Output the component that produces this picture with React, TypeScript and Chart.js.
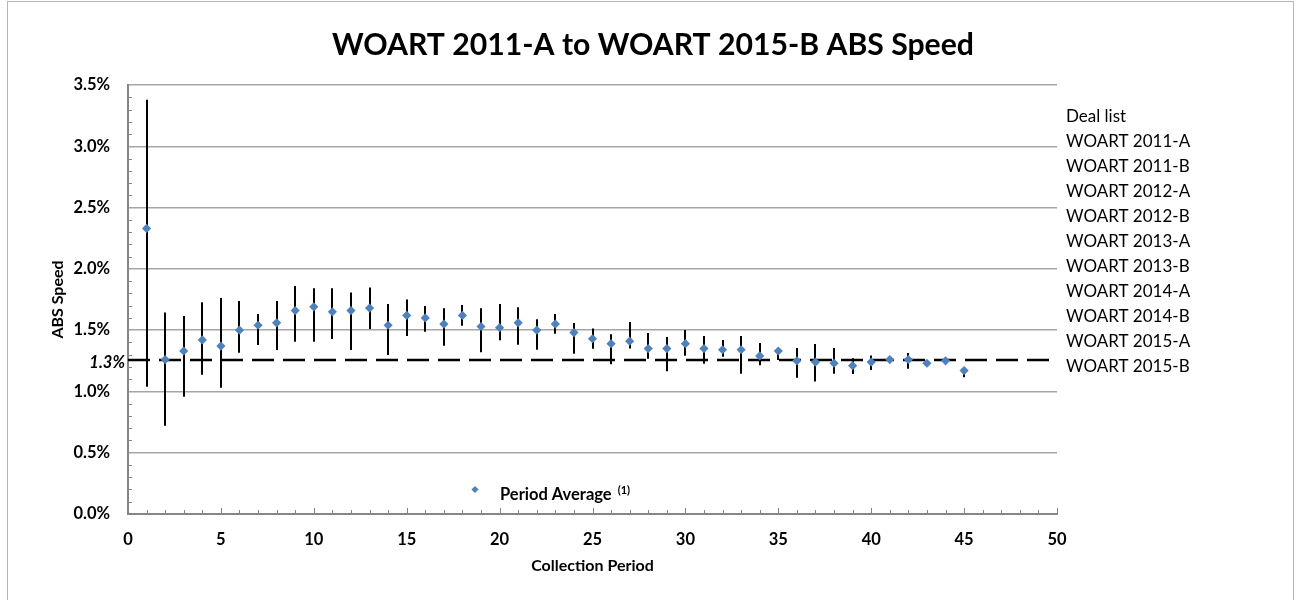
import React, { useEffect, useRef } from 'react';
import { Chart, registerables } from 'chart.js';

Chart.register(...registerables);

const chartTitle = 'WOART 2011-A to WOART 2015-B ABS Speed';
const xAxisTitle = 'Collection Period';
const yAxisTitle = 'ABS Speed';
const legendTitle = 'Deal list';
const dealList = [
  'WOART 2011-A', 'WOART 2011-B', 'WOART 2012-A', 'WOART 2012-B', 'WOART 2013-A',
  'WOART 2013-B', 'WOART 2014-A', 'WOART 2014-B', 'WOART 2015-A', 'WOART 2015-B',
];
const seriesLabel = 'Period Average';
const seriesNote = '(1)';

const periods = [
  1, 2, 3, 4, 5, 6, 7, 8, 9, 10, 11, 12, 13, 14, 15, 16, 17, 18, 19, 20, 21, 22, 23,
  24, 25, 26, 27, 28, 29, 30, 31, 32, 33, 34, 35, 36, 37, 38, 39, 40, 41, 42, 43, 44, 45,
];
const periodAverage = [
  2.33, 1.26, 1.33, 1.42, 1.37, 1.50, 1.54, 1.56, 1.66, 1.69, 1.65, 1.66, 1.68, 1.54, 1.62,
  1.60, 1.55, 1.62, 1.53, 1.52, 1.56, 1.50, 1.55, 1.48, 1.43, 1.39, 1.41, 1.35, 1.35, 1.39,
  1.35, 1.34, 1.34, 1.29, 1.33, 1.25, 1.24, 1.23, 1.21, 1.24, 1.26, 1.26, 1.23, 1.25, 1.17,
];
const periodHigh = [
  3.38, 1.645, 1.615, 1.727, 1.762, 1.737, 1.631, 1.737, 1.86, 1.841, 1.841, 1.808, 1.849, 1.713, 1.751,
  1.697, 1.678, 1.705, 1.678, 1.713, 1.686, 1.588, 1.631, 1.558, 1.514, 1.466, 1.566, 1.476, 1.444, 1.501,
  1.452, 1.419, 1.452, 1.395, 1.35, 1.354, 1.387, 1.354, 1.27, 1.294, 1.285, 1.313, 1.248, 1.26, 1.197,
];
const periodLow = [
  1.038, 0.72, 0.957, 1.136, 1.03, 1.316, 1.378, 1.338, 1.406, 1.406, 1.427, 1.338, 1.509, 1.297, 1.452,
  1.487, 1.373, 1.536, 1.319, 1.417, 1.381, 1.34, 1.471, 1.308, 1.348, 1.221, 1.351, 1.267, 1.164, 1.291,
  1.226, 1.283, 1.144, 1.213, 1.256, 1.112, 1.082, 1.144, 1.142, 1.175, 1.235, 1.185, 1.221, 1.24, 1.115,
];
const overallAverage = 1.256;
const overallAverageLabel = '1.3%';

const xTickValues = [0, 5, 10, 15, 20, 25, 30, 35, 40, 45, 50];
const yTickValues = [0, 0.5, 1.0, 1.5, 2.0, 2.5, 3.0, 3.5];
const xMinorCount = 50; // one minor tick per period
const yMinorCount = 35; // one minor tick per 0.1%

const FONT = 'Lato, "Open Sans", sans-serif';
const AXIS_COLOR = '#868686';
const GRID_COLOR = '#a6a6a6';
const MARKER_COLOR = '#4F81BD';

const framePlugin = {
  id: 'frame',
  beforeDraw(chart: any) {
    const { ctx, width, height } = chart;
    ctx.save();
    ctx.fillStyle = '#ffffff';
    ctx.fillRect(0, 0, width, height);
    ctx.strokeStyle = '#b5b5b5';
    ctx.lineWidth = 1;
    ctx.strokeRect(7.5, 1.5, 1286, height + 20);
    ctx.restore();
  },
};

const errorBarPlugin = {
  id: 'errorBars',
  beforeDatasetsDraw(chart: any) {
    const { ctx } = chart;
    const xs = chart.scales.x;
    const ys = chart.scales.y;
    ctx.save();
    ctx.strokeStyle = '#000000';
    ctx.lineWidth = 2;
    ctx.lineCap = 'butt';
    periods.forEach((p, i) => {
      const px = Math.round(xs.getPixelForValue(p));
      ctx.beginPath();
      ctx.moveTo(px, ys.getPixelForValue(periodLow[i]));
      ctx.lineTo(px, ys.getPixelForValue(periodHigh[i]));
      ctx.stroke();
    });
    ctx.restore();
  },
};

const decorPlugin = {
  id: 'decor',
  afterDraw(chart: any) {
    const { ctx, chartArea } = chart;
    const xs = chart.scales.x;
    const ys = chart.scales.y;
    ctx.save();
    // inside minor ticks
    ctx.strokeStyle = AXIS_COLOR;
    ctx.lineWidth = 1;
    ctx.beginPath();
    for (let k = 0; k <= yMinorCount; k++) {
      if (k % 5 === 0) continue;
      const v = ys.min + (k * (ys.max - ys.min)) / yMinorCount;
      const py = Math.round(ys.getPixelForValue(v)) + 0.5;
      ctx.moveTo(chartArea.left, py);
      ctx.lineTo(chartArea.left + 4, py);
    }
    for (let k = 1; k <= xMinorCount; k++) {
      const v = xs.min + (k * (xs.max - xs.min)) / xMinorCount;
      const px = Math.round(xs.getPixelForValue(v)) + 0.5;
      const len = k % 5 === 0 ? 6 : 4;
      ctx.moveTo(px, chartArea.bottom);
      ctx.lineTo(px, chartArea.bottom - len);
    }
    ctx.stroke();

    // average label on the y axis
    ctx.fillStyle = '#000000';
    ctx.font = `italic bold 16.5px ${FONT}`;
    ctx.textAlign = 'right';
    ctx.textBaseline = 'alphabetic';
    ctx.fillText(overallAverageLabel, chartArea.left - 3, ys.getPixelForValue(overallAverage) + 8.3);

    // deal list legend
    ctx.font = `17px ${FONT}`;
    ctx.textAlign = 'left';
    const lx = chartArea.right + 9;
    [legendTitle, ...dealList].forEach((t, i) => {
      ctx.fillText(t, lx, chartArea.top + 37 + i * 24.95);
    });

    // series legend inside plot
    const dx = chartArea.left + 347;
    const dy = chartArea.bottom - 24.5;
    const r = 3.6;
    ctx.fillStyle = MARKER_COLOR;
    ctx.beginPath();
    ctx.moveTo(dx - r, dy);
    ctx.lineTo(dx, dy - r);
    ctx.lineTo(dx + r, dy);
    ctx.lineTo(dx, dy + r);
    ctx.closePath();
    ctx.fill();
    ctx.fillStyle = '#000000';
    ctx.font = `bold 16.5px ${FONT}`;
    const tx = dx + 25;
    ctx.fillText(seriesLabel, tx, dy + 10);
    const w = ctx.measureText(seriesLabel).width;
    ctx.font = `bold 11px ${FONT}`;
    ctx.fillText(seriesNote, tx + w + 6, dy + 4);
    ctx.restore();
  },
};

export default function App() {
  const ref = useRef<HTMLCanvasElement>(null);

  useEffect(() => {
    document.body.style.margin = '0';
    const canvas = ref.current;
    if (!canvas) return;
    const chart = new Chart(canvas, {
      type: 'scatter',
      data: {
        datasets: [
          {
            label: seriesLabel,
            data: periods.map((p, i) => ({ x: p, y: periodAverage[i] })),
            pointStyle: 'rectRot',
            pointRadius: 4.6,
            pointBorderWidth: 0,
            backgroundColor: MARKER_COLOR,
            borderColor: MARKER_COLOR,
            xAxisID: 'x',
            yAxisID: 'y',
          },
          {
            label: 'Average',
            data: [
              { x: xTickValues[0], y: overallAverage },
              { x: xTickValues[xTickValues.length - 1], y: overallAverage },
            ],
            showLine: true,
            borderColor: '#000000',
            borderWidth: 2.6,
            borderDash: [22, 9],
            pointRadius: 0,
            fill: false,
            xAxisID: 'x',
            yAxisID: 'y',
          },
        ],
      },
      options: {
        responsive: false,
        animation: false,
        events: [],
        layout: { padding: { left: 20, right: 8, top: 0, bottom: 0 } },
        plugins: {
          legend: { display: false },
          tooltip: { enabled: false },
          title: {
            display: true,
            text: chartTitle,
            color: '#000000',
            font: { family: FONT, size: 30.2, weight: 'bold' },
            padding: { top: 27, bottom: 21.8 },
          },
        },
        scales: {
          x: {
            type: 'linear',
            position: 'bottom',
            min: xTickValues[0],
            max: xTickValues[xTickValues.length - 1],
            afterBuildTicks: (s: any) => {
              s.ticks = xTickValues.map((v) => ({ value: v }));
            },
            afterFit: (s: any) => {
              s.height = 86;
            },
            grid: { display: false, drawTicks: false },
            border: { display: true, color: AXIS_COLOR, width: 2 },
            ticks: {
              color: '#000000',
              font: { family: FONT, size: 16.5, weight: 'bold' },
              padding: 16,
              maxRotation: 0,
              autoSkip: false,
            },
            title: {
              display: true,
              text: xAxisTitle,
              color: '#000000',
              font: { family: FONT, size: 16, weight: 'bold' },
              padding: { top: 0, bottom: 24.4 },
            },
          },
          y: {
            type: 'linear',
            position: 'left',
            min: yTickValues[0],
            max: yTickValues[yTickValues.length - 1],
            afterBuildTicks: (s: any) => {
              s.ticks = yTickValues.map((v) => ({ value: v }));
            },
            afterFit: (s: any) => {
              s.width = 108;
            },
            grid: { display: true, drawTicks: false, color: GRID_COLOR, lineWidth: 1.5 },
            border: { display: true, color: AXIS_COLOR, width: 2 },
            ticks: {
              color: '#000000',
              font: { family: FONT, size: 16.5, weight: 'bold' },
              padding: 18,
              autoSkip: false,
              callback: (v: any) => `${Number(v).toFixed(1)}%`,
            },
            title: {
              display: true,
              text: yAxisTitle,
              color: '#000000',
              font: { family: FONT, size: 16, weight: 'bold' },
              padding: { top: 28.4, bottom: 0 },
            },
          },
          legendSpace: {
            type: 'linear',
            position: 'right',
            display: true,
            afterFit: (s: any) => {
              s.width = 229;
            },
            grid: { display: false, drawTicks: false },
            border: { display: false },
            ticks: { display: false },
          },
        },
      } as any,
      plugins: [framePlugin, errorBarPlugin, decorPlugin],
    });
    return () => chart.destroy();
  }, []);

  return (
    <div style={{ width: 1294, height: 600 }}>
      <canvas ref={ref} width={1294} height={600} style={{ display: 'block' }} />
    </div>
  );
}
